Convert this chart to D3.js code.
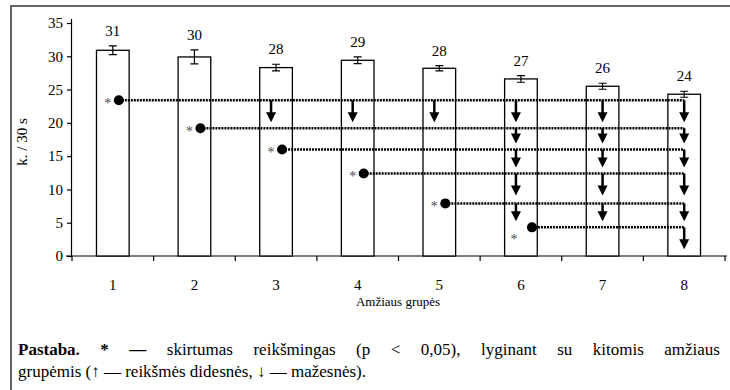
<!DOCTYPE html>
<html>
<head>
<meta charset="utf-8">
<script src="https://cdn.jsdelivr.net/npm/d3@7"></script>
<style>
  body { margin: 0; background: #fff; }
  text { font-family: "Liberation Serif", "Times New Roman", serif; fill: #000; }
</style>
</head>
<body>
<script>
// duomenys
var groups = ["1", "2", "3", "4", "5", "6", "7", "8"];
var means = [30.9, 29.9, 28.3, 29.4, 28.2, 26.6, 25.5, 24.3];
var errs = [0.65, 1.05, 0.5, 0.5, 0.4, 0.5, 0.45, 0.45];
var labels = ["31", "30", "28", "29", "28", "27", "26", "24"];
var yTicks = [0, 5, 10, 15, 20, 25, 30, 35];

// palyginimai: grupe su taskeliu, jos lygis ir grupes, kuriose reiksmes mazesnes
var dotGroups = ["1", "2", "3", "4", "5", "6"];
var dotLevels = [23.4, 19.2, 16.0, 12.4, 7.9, 4.3];
var lowerGroups = [
  ["3", "4", "5", "6", "7", "8"],
  ["6", "7", "8"],
  ["6", "7", "8"],
  ["6", "7", "8"],
  ["6", "7", "8"],
  ["8"]
];

var svg = d3.select("body")
    .append("svg")
    .attr("width", 730)
    .attr("height", 390);

// remelis (desinys ir apatinis krastai uz paveikslo ribu)
svg.append("rect")
    .attr("x", 11)
    .attr("y", 6)
    .attr("width", 740)
    .attr("height", 400)
    .attr("fill", "none")
    .attr("stroke", "#333")
    .attr("stroke-width", 1.5);

var x = d3.scaleBand().domain(groups).range([72, 725]).padding(0);
var y = d3.scaleLinear().domain([0, 35]).range([256, 23]);
var bw = x.bandwidth() * 0.4;
var cx = function(g) { return x(g) + x.bandwidth() / 2; };

// asys
svg.append("g")
    .attr("transform", "translate(72,0)")
    .call(d3.axisLeft(y).tickValues(yTicks).tickSize(5).tickPadding(4))
    .call(function(g) {
      g.select(".domain").attr("d", "M-0.5," + y(0) + "V" + (y(35) - 4));
      g.selectAll("line, path").attr("stroke", "#000").attr("stroke-width", 1.2);
      g.selectAll("text").attr("font-size", 15).attr("font-family", "Liberation Serif");
    });

var xAxis = svg.append("g").attr("transform", "translate(0," + y(0) + ")");
xAxis.append("line")
    .attr("x1", 66).attr("x2", 727)
    .attr("stroke", "#000").attr("stroke-width", 1.2);
xAxis.selectAll(".tk")
    .data(groups.concat(["end"]))
    .enter().append("line")
    .attr("x1", function(d, i) { return 72 + i * x.bandwidth(); })
    .attr("x2", function(d, i) { return 72 + i * x.bandwidth(); })
    .attr("y1", 0).attr("y2", 5)
    .attr("stroke", "#000").attr("stroke-width", 1.2);
xAxis.selectAll(".lb")
    .data(groups)
    .enter().append("text")
    .attr("x", function(d) { return cx(d); })
    .attr("y", 34)
    .attr("text-anchor", "middle")
    .attr("font-size", 15)
    .text(function(d) { return d; });

// stulpeliai
svg.selectAll(".bar")
    .data(groups)
    .enter().append("rect")
    .attr("x", function(d) { return cx(d) - bw / 2; })
    .attr("y", function(d, i) { return y(means[i]); })
    .attr("width", bw)
    .attr("height", function(d, i) { return y(0) - y(means[i]); })
    .attr("fill", "#fff")
    .attr("stroke", "#000")
    .attr("stroke-width", 1.3);

// paklaidos
groups.forEach(function(g, i) {
  var c = cx(g), hi = y(means[i] + errs[i]), lo = y(means[i] - errs[i]);
  svg.append("path")
      .attr("d", "M" + c + "," + hi + "V" + lo +
                 "M" + (c - 4) + "," + hi + "H" + (c + 4) +
                 "M" + (c - 4) + "," + lo + "H" + (c + 4))
      .attr("stroke", "#000").attr("stroke-width", 1.2).attr("fill", "none");
  svg.append("text")
      .attr("x", c)
      .attr("y", hi - 10)
      .attr("text-anchor", "middle")
      .attr("font-size", 15)
      .text(labels[i]);
});

// taskeliai, punktyrai ir rodykles
var last = dotGroups.length - 1;
dotGroups.forEach(function(g, i) {
  var ly = y(dotLevels[i]);
  var dx = cx(g) + (i === last ? 11 : 6);
  var endX = cx(lowerGroups[i][lowerGroups[i].length - 1]);
  var gap = i < last ? y(dotLevels[i + 1]) - ly : 30;
  var len = Math.min(22, gap - 6);

  svg.append("line")
      .attr("x1", dx).attr("x2", endX)
      .attr("y1", ly).attr("y2", ly)
      .attr("stroke", "#000")
      .attr("stroke-width", 2.5)
      .attr("stroke-dasharray", "2,1");

  lowerGroups[i].forEach(function(lg) {
    var ax = cx(lg) - (dotGroups.indexOf(lg) >= 0 ? 5 : 0);
    if (lg === "8") ax = endX;
    svg.append("line")
        .attr("x1", ax).attr("x2", ax)
        .attr("y1", ly).attr("y2", ly + len - 8)
        .attr("stroke", "#000").attr("stroke-width", 2.5);
    svg.append("path")
        .attr("d", "M" + (ax - 5) + "," + (ly + len - 10) + "L" + (ax + 5) + "," + (ly + len - 10) +
                   "L" + ax + "," + (ly + len) + "Z")
        .attr("fill", "#000");
  });

  svg.append("circle")
      .attr("cx", dx).attr("cy", ly).attr("r", 5)
      .attr("fill", "#000");

  svg.append("text")
      .attr("x", i === last ? cx(g) - 7 : dx - 11)
      .attr("y", i === last ? ly + 17 : ly + 8)
      .attr("text-anchor", "middle")
      .attr("font-size", 14)
      .style("fill", "#4a4a4a")
      .text("*");
});

// asiu pavadinimai
svg.append("text")
    .attr("transform", "translate(27,142) rotate(-90)")
    .attr("text-anchor", "middle")
    .attr("font-size", 15)
    .text("k. / 30 s");

svg.append("text")
    .attr("x", 398)
    .attr("y", 306)
    .attr("text-anchor", "middle")
    .attr("font-size", 13)
    .text("Amžiaus grupės");

// pastaba
var note1 = svg.append("text")
    .attr("x", 18)
    .attr("y", 355)
    .attr("font-size", 17);
note1.append("tspan").attr("font-weight", "bold").text("Pastaba. * —");
note1.append("tspan").text(" skirtumas reikšmingas (p < 0,05), lyginant su kitomis amžiaus");
var w = note1.node().getComputedTextLength();
var spaces = note1.text().split(" ").length - 1;
note1.attr("word-spacing", (720 - 18 - w) / spaces);

svg.append("text")
    .attr("x", 18)
    .attr("y", 377)
    .attr("font-size", 17)
    .text("grupėmis (↑ — reikšmės didesnės, ↓ — mažesnės).");
</script>
</body>
</html>
